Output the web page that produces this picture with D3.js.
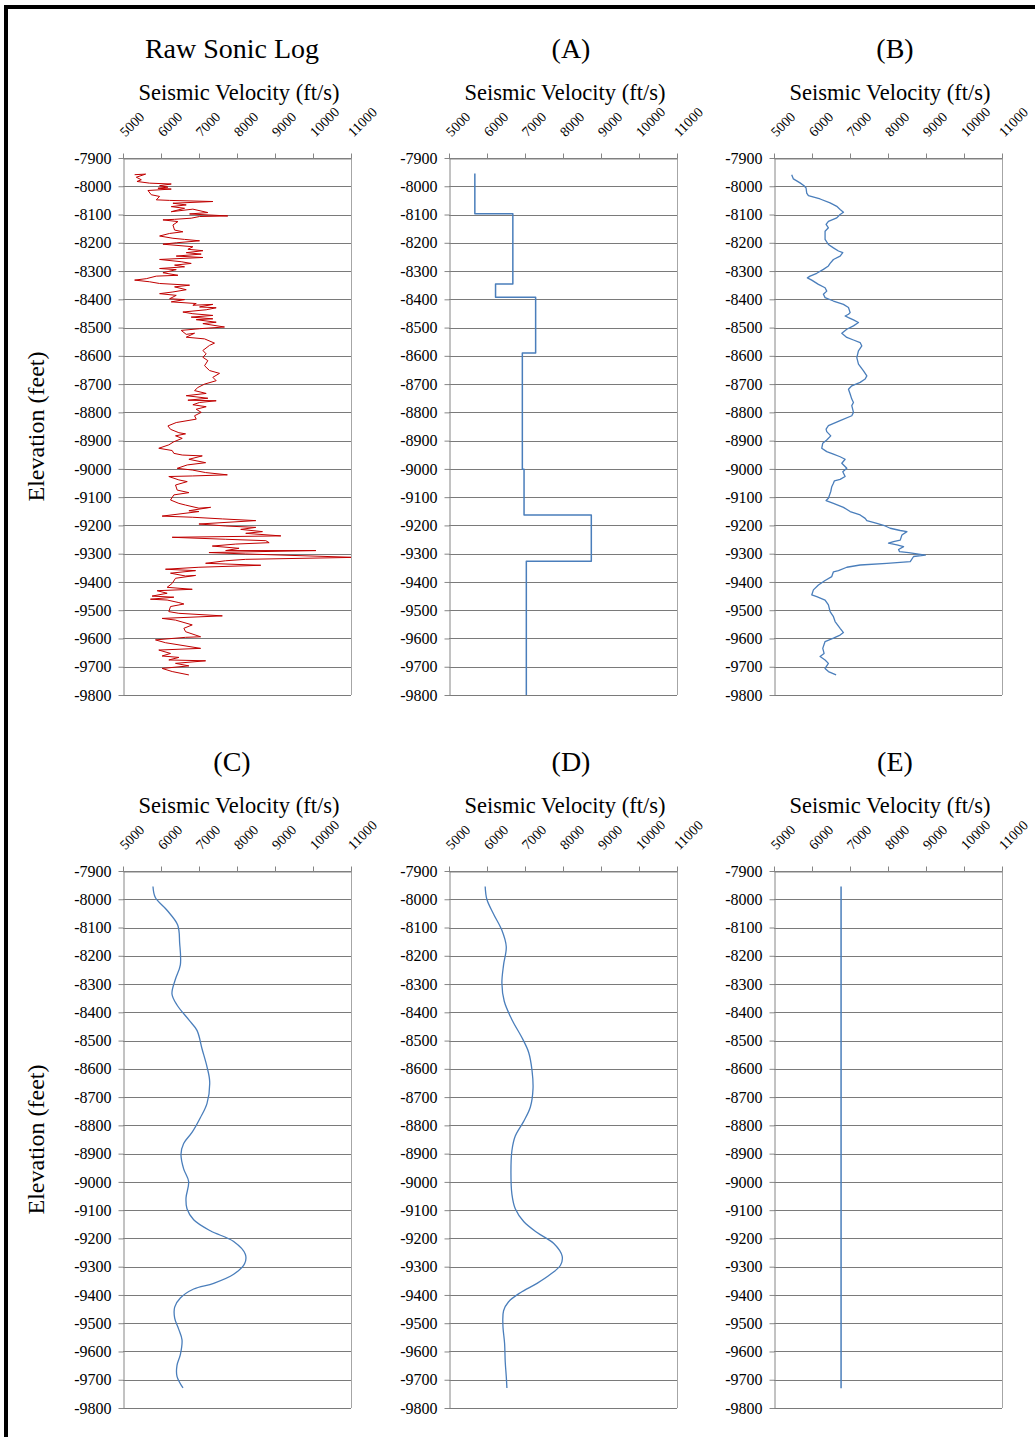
<!DOCTYPE html>
<html>
<head>
<meta charset="utf-8">
<title>Seismic Velocity Logs</title>
<script src="https://cdn.jsdelivr.net/npm/d3@7"></script>
<style>
  body { margin: 0; background: #fff; }
  svg text { font-family: "Liberation Serif", "Times New Roman", serif; fill: #000; }
</style>
</head>
<body>
<div id="chart"></div>
<script>
// axis ticks
var xTicks = [5000, 6000, 7000, 8000, 9000, 10000, 11000];
var yTicks = [-7900, -8000, -8100, -8200, -8300, -8400, -8500, -8600, -8700, -8800,
              -8900, -9000, -9100, -9200, -9300, -9400, -9500, -9600, -9700, -9800];

// raw sonic log [velocity, elevation]
var rawLog = [
  [5306,-7959],[5595,-7957],[5350,-7968],[5482,-7977],[5368,-7983],[5701,-7989],[6270,-7992],
  [5963,-7998],[6182,-8003],[5919,-8007],[6270,-8010],[5657,-8015],[5744,-8030],[5963,-8036],
  [5875,-8048],[6226,-8050],[7364,-8054],[6314,-8060],[6664,-8066],[6270,-8072],[6620,-8078],
  [6270,-8090],[6839,-8081],[7233,-8093],[6752,-8098],[7758,-8105],[7014,-8107],[6795,-8113],
  [6357,-8117],[6051,-8119],[6445,-8125],[6314,-8137],[6357,-8155],[6576,-8161],[6226,-8167],
  [5963,-8176],[6314,-8184],[6620,-8188],[7014,-8193],[6401,-8200],[6051,-8205],[6839,-8214],
  [6708,-8223],[7102,-8228],[6664,-8235],[7058,-8240],[6401,-8247],[7102,-8252],[5963,-8259],
  [6532,-8267],[6795,-8273],[6357,-8279],[6620,-8285],[5963,-8291],[6401,-8295],[6051,-8306],
  [6445,-8315],[5875,-8318],[5613,-8327],[5306,-8332],[5701,-8338],[5963,-8344],[6752,-8350],
  [6357,-8356],[6664,-8366],[6314,-8374],[5963,-8380],[6401,-8386],[6226,-8398],[6620,-8401],
  [6270,-8409],[6927,-8415],[6839,-8421],[7364,-8418],[7014,-8427],[7452,-8430],[7189,-8437],
  [6576,-8445],[6839,-8451],[7364,-8457],[6795,-8463],[7364,-8469],[6927,-8472],[7452,-8481],
  [7102,-8486],[7671,-8498],[7014,-8504],[6532,-8510],[6664,-8524],[6883,-8520],[6664,-8534],
  [7146,-8540],[7408,-8555],[7277,-8563],[7102,-8581],[7189,-8593],[7102,-8605],[7233,-8617],
  [7146,-8635],[7277,-8652],[7540,-8662],[7364,-8676],[7452,-8688],[7146,-8700],[6970,-8712],
  [6883,-8723],[7189,-8733],[6664,-8741],[7233,-8750],[6708,-8757],[7452,-8759],[7014,-8765],
  [6839,-8773],[7189,-8780],[6927,-8789],[7058,-8800],[6883,-8812],[6927,-8824],[6401,-8836],
  [6182,-8848],[6250,-8860],[6470,-8872],[6646,-8876],[6382,-8883],[6558,-8892],[6338,-8904],
  [6206,-8915],[5942,-8927],[6294,-8935],[6338,-8945],[6558,-8951],[7086,-8954],[6734,-8966],
  [7174,-8978],[6690,-8986],[6426,-8998],[6822,-9004],[7174,-9013],[7746,-9021],[6822,-9025],
  [6206,-9027],[6470,-9039],[6690,-9045],[6382,-9057],[6426,-9075],[6734,-9084],[6338,-9092],
  [6250,-9110],[6470,-9122],[6646,-9128],[6998,-9139],[7306,-9136],[6734,-9148],[6998,-9151],
  [6030,-9167],[6822,-9171],[7614,-9177],[8494,-9183],[6998,-9195],[7702,-9202],[8494,-9207],
  [8098,-9214],[8670,-9222],[8230,-9228],[9154,-9237],[6294,-9242],[7702,-9249],[8758,-9254],
  [8846,-9261],[7966,-9266],[7350,-9273],[8054,-9281],[7702,-9289],[10078,-9289],[7262,-9296],
  [8230,-9301],[11100,-9313],[8230,-9320],[7702,-9325],[7174,-9334],[8626,-9341],[6998,-9348],
  [6118,-9355],[6910,-9360],[6250,-9369],[6646,-9379],[6910,-9377],[6382,-9387],[6294,-9405],
  [6162,-9419],[6822,-9426],[5898,-9431],[6162,-9440],[5766,-9450],[6338,-9454],[5722,-9461],
  [6162,-9464],[6470,-9473],[6602,-9478],[6250,-9487],[6206,-9505],[6470,-9511],[7614,-9520],
  [6030,-9529],[6382,-9535],[6822,-9552],[6602,-9564],[6646,-9576],[7042,-9594],[6646,-9596],
  [5854,-9605],[6118,-9615],[7042,-9635],[5942,-9641],[6250,-9653],[6030,-9662],[6470,-9667],
  [6206,-9676],[7174,-9679],[6382,-9688],[6734,-9697],[6030,-9706],[6294,-9717],[6734,-9729]
];

// (A) layered velocities: layer boundaries and velocity of each layer
var layerBounds = [-7955, -8097, -8346, -8393, -8590, -9001, -9163, -9327, -9800];
var layerVel = [5680, 6680, 6225, 7280, 6930, 6975, 8745, 7035];

// (B) smoothed log
var trendB = [
  [5466,-7959],[5510,-7974],[5685,-7988],[5791,-7998],[5844,-8006],[5861,-8024],[5905,-8033],
  [6213,-8045],[6476,-8059],[6652,-8071],[6740,-8082],[6828,-8092],[6740,-8100],[6652,-8112],
  [6432,-8124],[6371,-8135],[6432,-8147],[6344,-8159],[6344,-8188],[6432,-8206],[6564,-8218],
  [6696,-8229],[6810,-8235],[6740,-8247],[6564,-8259],[6476,-8273],[6432,-8282],[6300,-8294],
  [6125,-8308],[5949,-8318],[5879,-8324],[5993,-8332],[6169,-8347],[6344,-8359],[6388,-8371],
  [6300,-8382],[6344,-8394],[6564,-8406],[6828,-8418],[6960,-8429],[7004,-8447],[6960,-8453],
  [6872,-8459],[6960,-8465],[7091,-8473],[7223,-8482],[7091,-8494],[6916,-8506],[6784,-8520],
  [6916,-8535],[7091,-8544],[7267,-8553],[7311,-8565],[7223,-8582],[7179,-8606],[7223,-8629],
  [7355,-8653],[7443,-8671],[7399,-8682],[7267,-8694],[7047,-8706],[6960,-8718],[7004,-8735],
  [7047,-8753],[7091,-8765],[7047,-8776],[7091,-8800],[7047,-8812],[6740,-8829],[6432,-8847],
  [6371,-8859],[6388,-8868],[6494,-8883],[6388,-8898],[6283,-8909],[6256,-8927],[6388,-8939],
  [6564,-8948],[6740,-8957],[6872,-8966],[6784,-8980],[6916,-8998],[6810,-9010],[6872,-9027],
  [6740,-9037],[6590,-9042],[6564,-9051],[6520,-9063],[6494,-9080],[6432,-9104],[6371,-9112],
  [6564,-9122],[6828,-9136],[7004,-9151],[7267,-9163],[7399,-9175],[7443,-9183],[7707,-9193],
  [7926,-9202],[8058,-9210],[8322,-9218],[8498,-9222],[8366,-9234],[8322,-9252],[8146,-9257],
  [8014,-9263],[8234,-9269],[8410,-9275],[8278,-9285],[8304,-9293],[8542,-9296],[8981,-9305],
  [8673,-9310],[8585,-9328],[7970,-9334],[7267,-9340],[6916,-9348],[6696,-9360],[6564,-9364],
  [6520,-9381],[6344,-9395],[6169,-9411],[6037,-9428],[5993,-9446],[6125,-9452],[6344,-9464],
  [6432,-9481],[6476,-9505],[6564,-9523],[6608,-9540],[6740,-9564],[6828,-9579],[6740,-9588],
  [6564,-9599],[6344,-9611],[6283,-9635],[6318,-9653],[6213,-9664],[6344,-9676],[6432,-9688],
  [6344,-9706],[6432,-9717],[6634,-9729]
];

// (C) smooth fit
var smoothC = [
  [5789,-7955],[5851,-7994],[6158,-8039],[6439,-8091],[6491,-8155],[6509,-8232],[6377,-8284],
  [6289,-8335],[6421,-8374],[6728,-8426],[6947,-8464],[7079,-8529],[7211,-8593],[7281,-8645],
  [7211,-8722],[7035,-8773],[6816,-8825],[6596,-8864],[6526,-8902],[6596,-8954],[6728,-8999],
  [6658,-9057],[6684,-9095],[6860,-9134],[7298,-9173],[7912,-9211],[8219,-9256],[8202,-9289],
  [7912,-9327],[7386,-9359],[6860,-9379],[6509,-9411],[6360,-9443],[6360,-9482],[6465,-9521],
  [6553,-9559],[6509,-9611],[6421,-9649],[6421,-9688],[6579,-9729]
];

// (D) smoother fit
var smoothD = [
  [5952,-7955],[5996,-8000],[6172,-8052],[6392,-8110],[6507,-8168],[6436,-8232],[6392,-8297],
  [6454,-8361],[6656,-8426],[6921,-8490],[7097,-8542],[7185,-8606],[7211,-8670],[7141,-8735],
  [6965,-8786],[6744,-8838],[6656,-8889],[6630,-8967],[6656,-9044],[6744,-9095],[6965,-9140],
  [7317,-9179],[7758,-9218],[7978,-9263],[7934,-9295],[7670,-9327],[7317,-9359],[6877,-9392],
  [6568,-9424],[6436,-9456],[6419,-9508],[6463,-9572],[6480,-9637],[6507,-9688],[6524,-9729]
];

// (E) constant velocity
var constE = [[6765,-7955],[6765,-9730]];

// build step line for (A)
var stepA = [];
layerVel.forEach(function(v, i) {
  stepA.push([v, layerBounds[i]]);
  stepA.push([v, layerBounds[i + 1]]);
});

var width = 1035, height = 1437;
var colLeft = [123, 449, 774];
var rowTop = [158, 871];
var plotW = 228, plotH = 537;
var titleX = [232, 571, 895];

var panels = [
  { title: "Raw Sonic Log", col: 0, row: 0, data: rawLog, color: "#c00000", lw: 1, curve: d3.curveLinear },
  { title: "(A)", col: 1, row: 0, data: stepA, color: "#4a7ebb", lw: 1.5, curve: d3.curveLinear },
  { title: "(B)", col: 2, row: 0, data: trendB, color: "#4a7ebb", lw: 1.3, curve: d3.curveLinear },
  { title: "(C)", col: 0, row: 1, data: smoothC, color: "#4a7ebb", lw: 1.3, curve: d3.curveCatmullRom },
  { title: "(D)", col: 1, row: 1, data: smoothD, color: "#4a7ebb", lw: 1.3, curve: d3.curveCatmullRom },
  { title: "(E)", col: 2, row: 1, data: constE, color: "#4a7ebb", lw: 1.5, curve: d3.curveLinear }
];

var svg = d3.select("#chart")
  .append("svg")
  .attr("width", width)
  .attr("height", height);

// page frame
svg.append("rect").attr("x", 4).attr("y", 5).attr("width", width - 4).attr("height", 4).attr("fill", "#000");
svg.append("rect").attr("x", 4).attr("y", 5).attr("width", 4).attr("height", height - 5).attr("fill", "#000");

var x = d3.scaleLinear().domain([5000, 11000]).range([0, plotW]);
var y = d3.scaleLinear().domain([-7900, -9800]).range([0, plotH]);

panels.forEach(function(p, i) {
  var left = colLeft[p.col], top = rowTop[p.row];
  var g = svg.append("g").attr("transform", "translate(" + left + "," + top + ")");

  // titles
  svg.append("text")
    .attr("x", titleX[p.col])
    .attr("y", top - 100)
    .attr("text-anchor", "middle")
    .style("font-size", "28px")
    .text(p.title);

  svg.append("text")
    .attr("x", left + plotW / 2 + 2)
    .attr("y", top - 58)
    .attr("text-anchor", "middle")
    .style("font-size", "22.5px")
    .text("Seismic Velocity (ft/s)");

  // horizontal gridlines
  g.append("g")
    .selectAll("line")
    .data(yTicks)
    .enter()
    .append("line")
      .attr("x1", 0)
      .attr("x2", plotW)
      .attr("y1", function(d) { return Math.round(y(d)) + 0.5; })
      .attr("y2", function(d) { return Math.round(y(d)) + 0.5; })
      .attr("stroke", "#7a7a7a")
      .attr("stroke-width", 1);

  // right edge
  g.append("line")
    .attr("x1", Math.round(x(11000)) + 0.5).attr("x2", Math.round(x(11000)) + 0.5)
    .attr("y1", 0).attr("y2", plotH)
    .attr("stroke", "#a6a6a6");

  // left axis
  var ya = g.append("g")
    .attr("transform", "translate(0.5,0)")
    .call(d3.axisLeft(y).tickValues(yTicks).tickSize(5).tickSizeOuter(0).tickPadding(7)
      .tickFormat(function(d) { return "-" + Math.abs(d); }));
  ya.select(".domain").attr("stroke", "#868686");
  ya.selectAll(".tick line").attr("stroke", "#868686");
  ya.selectAll("text").style("font-size", "16px");

  // top axis
  var xa = g.append("g")
    .attr("transform", "translate(0,0.5)")
    .call(d3.axisTop(x).tickValues(xTicks).tickSize(5).tickSizeOuter(0)
      .tickFormat(function(d) { return String(d); }));
  xa.select(".domain").attr("stroke", "#868686");
  xa.selectAll(".tick line").attr("stroke", "#868686");
  xa.selectAll("text")
    .attr("text-anchor", "start")
    .attr("x", 0).attr("y", 0).attr("dy", 0)
    .attr("transform", "translate(2,-21) rotate(-45)")
    .style("font-size", "14px");

  // clip
  svg.append("clipPath").attr("id", "clip" + i)
    .append("rect").attr("width", plotW).attr("height", plotH);

  g.append("path")
    .datum(p.data)
    .attr("clip-path", "url(#clip" + i + ")")
    .attr("fill", "none")
    .attr("stroke", p.color)
    .attr("stroke-width", p.lw)
    .attr("stroke-linejoin", "round")
    .attr("d", d3.line()
      .curve(p.curve)
      .x(function(d) { return x(d[0]); })
      .y(function(d) { return y(d[1]); }));
});

// y axis titles
[0, 1].forEach(function(r) {
  svg.append("text")
    .attr("transform", "translate(44," + (rowTop[r] + plotH / 2) + ") rotate(-90)")
    .attr("text-anchor", "middle")
    .style("font-size", "24px")
    .text("Elevation (feet)");
});
</script>
</body>
</html>
